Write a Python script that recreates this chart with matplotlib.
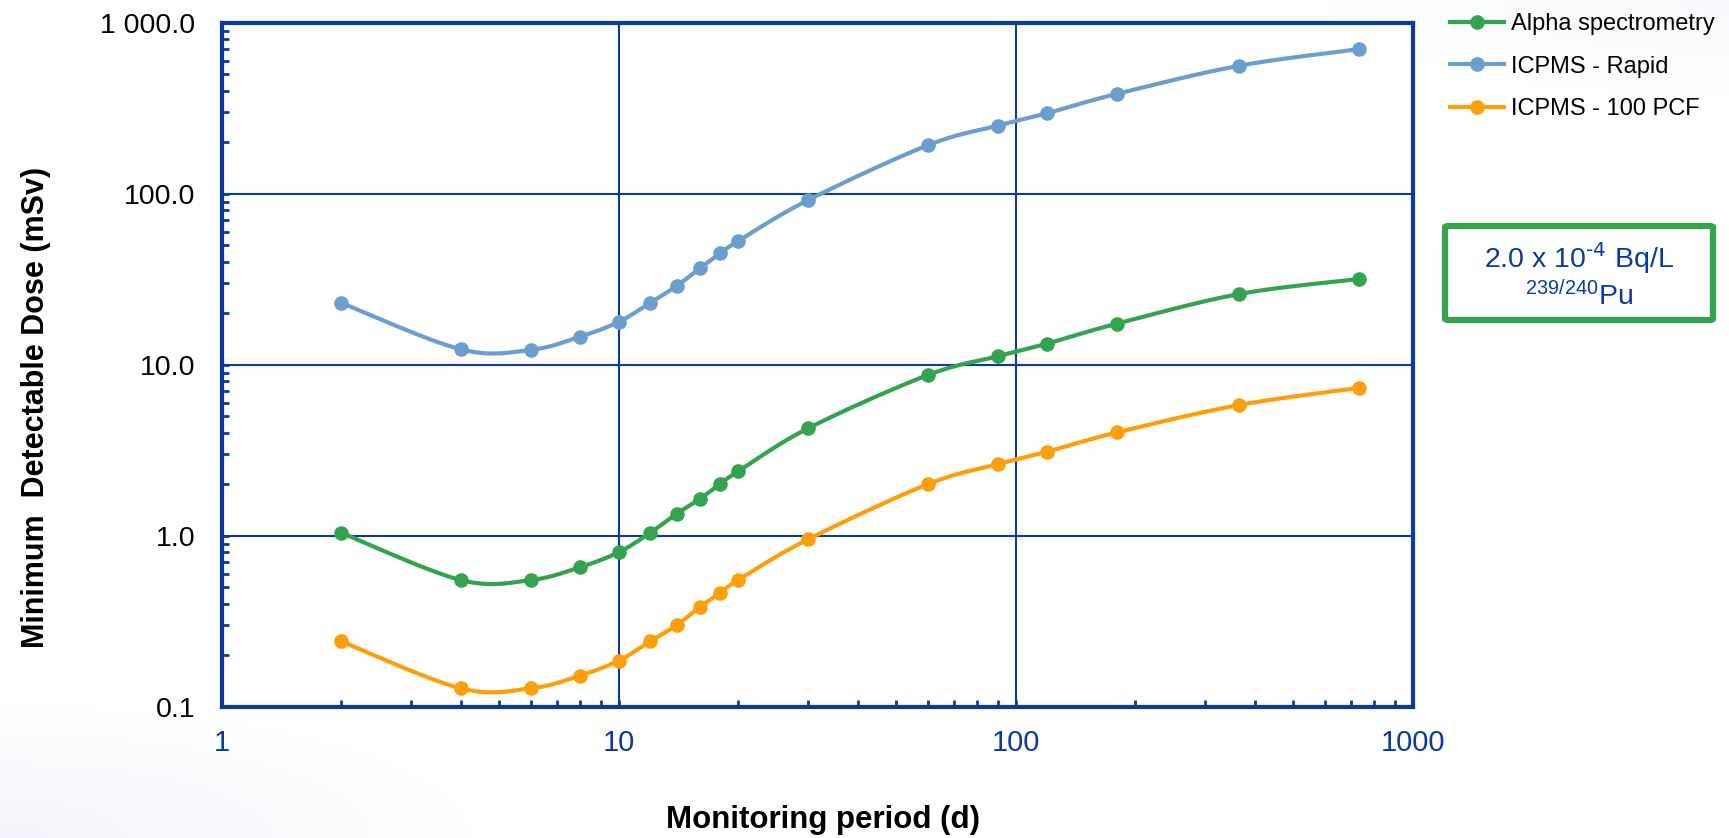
import matplotlib
matplotlib.use("Agg")
import numpy as np
import matplotlib.pyplot as plt
from matplotlib.lines import Line2D
from matplotlib.patches import FancyBboxPatch
from matplotlib.ticker import LogLocator, NullFormatter

plt.rcParams['font.family'] = ['Liberation Sans', 'DejaVu Sans']
plt.rcParams['mathtext.default'] = 'regular'

# monitoring period (d)
days = [2, 4, 6, 8, 10, 12, 14, 16, 18, 20, 30, 60, 90, 120, 180, 365, 730]

# minimum detectable dose (mSv)
alpha = [1.04, 0.55, 0.55, 0.655, 0.80, 1.04, 1.345, 1.64, 2.01, 2.38,
         4.25, 8.7, 11.2, 13.3, 17.4, 25.9, 31.7]
icpms_rapid = [23.0, 12.3, 12.2, 14.6, 17.8, 23.0, 28.9, 36.6, 44.8, 52.9,
               91.8, 192, 250, 296, 384, 560, 700]
icpms_pcf = [0.241, 0.128, 0.128, 0.152, 0.186, 0.241, 0.30, 0.383, 0.462,
             0.551, 0.953, 2.0, 2.62, 3.10, 4.02, 5.81, 7.31]

series = [("Alpha spectrometry", alpha, "#34A350"),
          ("ICPMS - Rapid", icpms_rapid, "#6A9ECE"),
          ("ICPMS - 100 PCF", icpms_pcf, "#FF9E0B")]

y_ticks = [0.1, 1, 10, 100, 1000]
y_labels = ["0.1", "1.0", "10.0", "100.0", "1 000.0"]
x_ticks = [1, 10, 100, 1000]
x_labels = ["1", "10", "100", "1000"]

navy = "#0A3A9E"


def smooth(xs, ys, n=40):
    # excel style smoothed line (catmull-rom bezier) in log-log space
    p = np.column_stack([np.log10(xs), np.log10(ys)])
    out = []
    t = np.linspace(0, 1, n)[:, None]
    for i in range(len(p) - 1):
        p0 = p[i - 1] if i > 0 else p[i]
        p1 = p[i]
        p2 = p[i + 1]
        p3 = p[i + 2] if i + 2 < len(p) else p[i + 1]
        c1 = p1 + (p2 - p0) / 6.0
        c2 = p2 - (p3 - p1) / 6.0
        seg = ((1 - t) ** 3) * p1 + 3 * ((1 - t) ** 2) * t * c1 \
            + 3 * (1 - t) * t ** 2 * c2 + t ** 3 * p2
        out.append(seg)
    out = np.vstack(out)
    return 10 ** out[:, 0], 10 ** out[:, 1]


fig = plt.figure(figsize=(17.29, 8.38), dpi=100)

# faint background tint in the corners
bg = fig.add_axes([0, 0, 1, 1], zorder=-5)
gx, gy = np.meshgrid(np.linspace(0, 1, 400), np.linspace(0, 1, 200))
d1 = np.sqrt((gx / 0.28) ** 2 + ((1 - gy) / 0.16) ** 2)
d2 = np.sqrt(((1 - gx) / 0.25) ** 2 + (gy / 0.12) ** 2)
a = np.clip(1 - d1, 0, 1) * 0.10 + np.clip(1 - d2, 0, 1) * 0.05
img = np.zeros(gx.shape + (4,))
img[..., 0] = 0.45
img[..., 1] = 0.65
img[..., 2] = 0.90
img[..., 3] = a
bg.imshow(img, extent=[0, 1, 0, 1], aspect='auto', origin='upper')
bg.axis('off')

ax = fig.add_axes([0.1282, 0.1567, 0.689, 0.8162])
ax.set_xscale('log')
ax.set_yscale('log')

handles = []
for name, vals, col in series:
    sx, sy = smooth(days, vals)
    ax.plot(sx, sy, color=col, lw=3, solid_capstyle='round', zorder=3)
    ax.plot(days, vals, 'o', color=col, ms=9.5, zorder=4)
    handles.append(Line2D([], [], color=col, lw=3, marker='o', ms=9.5,
                          label=name))

ax.set_xlim(1, 1000)
ax.set_ylim(0.1, 1000)

ax.set_yticks(y_ticks)
ax.set_yticklabels(y_labels)
ax.set_xticks(x_ticks)
ax.set_xticklabels(x_labels)
ax.xaxis.set_minor_locator(LogLocator(base=10, subs=np.arange(2, 10)))
ax.yaxis.set_minor_locator(LogLocator(base=10, subs=np.arange(2, 10)))
ax.xaxis.set_minor_formatter(NullFormatter())
ax.yaxis.set_minor_formatter(NullFormatter())

ax.tick_params(axis='both', which='both', direction='in', color=navy,
               top=False, right=False)
ax.tick_params(axis='both', which='major', length=5, width=2)
ax.tick_params(axis='both', which='minor', length=5, width=2)
ax.tick_params(axis='y', which='major', labelsize=20.5, labelcolor='black',
               pad=19)
ax.tick_params(axis='x', which='major', labelsize=21, labelcolor=navy,
               pad=16)

ax.grid(True, which='major', color=navy, lw=1.5)
ax.set_axisbelow(True)
for sp in ax.spines.values():
    sp.set_color(navy)
    sp.set_linewidth(3)

fig.text(0.476, 0.021, "Monitoring period (d)", fontsize=22.5,
         fontweight='bold', ha='center', va='center')
fig.text(0.021, 0.514, "Minimum  Detectable Dose (mSv)", fontsize=22,
         fontweight='bold', rotation=90, ha='center', va='center')

fig.legend(handles=handles, loc='upper left', bbox_to_anchor=(0.831, 1.0),
           frameon=False, fontsize=17, handlelength=2.3,
           handletextpad=0.3, labelspacing=0.87, borderpad=0.55,
           borderaxespad=0)

# annotation box
box = FancyBboxPatch((1445 / 1729, 1 - 320 / 838), 268 / 1729, 94 / 838,
                     boxstyle="round,pad=0,rounding_size=0.002",
                     transform=fig.transFigure, fill=False,
                     edgecolor="#35A24C", lw=4.5)
fig.patches.append(box)
fig.text(1579 / 1729, 1 - 258 / 838, r"2.0 x 10$^{\text{-4}}$ Bq/L",
         fontsize=20.5, color=navy, ha='center', va='center')
fig.text(1579 / 1729, 1 - 296 / 838, r"$^{239/240}$Pu", fontsize=20.5,
         color=navy, ha='center', va='center')

fig.savefig("out.png", dpi=100)
